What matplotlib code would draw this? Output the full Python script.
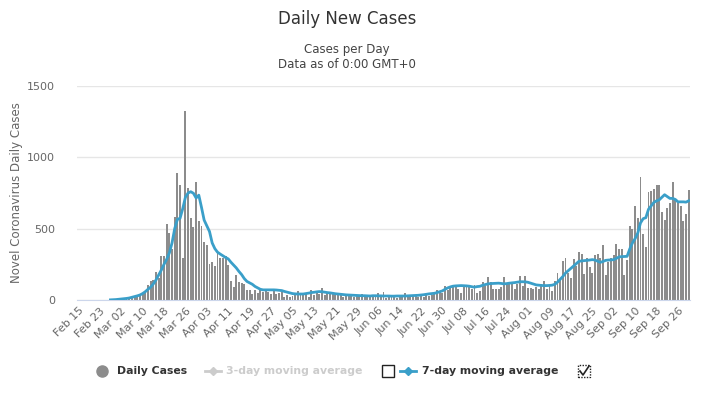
import numpy as np
import matplotlib.pyplot as plt
from matplotlib.patches import Rectangle
from matplotlib.lines import Line2D

# daily new cases, Feb 15 .. Sep 30
daily = [
    0, 0, 0, 0, 0, 0, 0, 0, 0, 0, 0, 0,
    1, 2, 3, 4, 5, 8, 10, 12,
    15, 18, 25, 30, 40, 47, 106, 134, 141, 196,
    153, 311, 311, 530, 467, 354, 584, 891, 806, 297,
    1325, 787, 575, 509, 827, 556, 518, 410, 386, 250,
    264, 240, 339, 297, 297, 311, 243, 134, 94, 177,
    123, 118, 111, 71, 71, 42, 71, 47, 71, 59,
    66, 59, 42, 71, 40, 47, 59, 24, 35, 19,
    28, 35, 64, 35, 47, 40, 19, 71, 35, 47,
    40, 82, 35, 52, 42, 52, 35, 47, 40, 19,
    28, 35, 28, 24, 33, 28, 42, 24, 19, 28,
    35, 24, 47, 28, 57, 12, 24, 19, 28, 12,
    24, 28, 47, 24, 19, 35, 28, 24, 35, 24,
    33, 28, 35, 42, 71, 64, 47, 99, 71, 101,
    106, 106, 78, 52, 94, 101, 94, 75, 106, 47,
    66, 127, 100, 164, 127, 78, 78, 78, 93, 162,
    115, 115, 122, 79, 113, 170, 99, 170, 82, 82,
    78, 92, 78, 113, 134, 75, 106, 64, 134, 191,
    148, 276, 297, 191, 156, 290, 240, 339, 325, 184,
    292, 233, 191, 318, 325, 292, 389, 177, 269, 297,
    318, 396, 354, 354, 177, 283, 516, 495, 658, 573,
    863, 460, 375, 757, 764, 778, 806, 806, 620, 559,
    643, 679, 827, 707, 679, 658, 552, 601, 771,
]

# 7-day moving average as drawn (starts Feb 27)
avg7 = [
    np.nan, np.nan, np.nan, np.nan, np.nan, np.nan,
    np.nan, np.nan, np.nan, np.nan, np.nan, np.nan,
    1, 2, 3, 5, 7, 9, 11, 14,
    19, 24, 29, 35, 45, 58, 75, 90, 112, 140,
    175, 210, 250, 285, 330, 400, 500, 565, 573, 640,
    720, 750, 759, 748, 715, 735, 650, 560, 520, 480,
    400, 360, 335, 322, 310, 298, 288, 265, 245, 225,
    200, 178, 150, 130, 120, 110, 95, 85, 75, 71,
    71, 71, 71, 71, 70, 68, 66, 60, 55, 50,
    45, 43, 42, 42, 42, 45, 48, 52, 54, 57,
    59, 58, 55, 52, 50, 47, 44, 42, 40, 38,
    36, 35, 34, 33, 32, 31, 30, 30, 29, 28,
    30, 30, 29, 29, 28, 28, 28, 27, 27, 28,
    28, 28, 28, 29, 30, 31, 32, 33, 35, 37,
    40, 43, 45, 47, 52, 58, 64, 75, 85, 92,
    97, 99, 100, 101, 100, 99, 97, 93, 90, 94,
    96, 103, 108, 113, 115, 116, 117, 118, 116, 113,
    115, 118, 120, 122, 125, 128, 128, 127, 124, 118,
    112, 106, 104, 102, 101, 101, 102, 104, 110, 125,
    145, 165, 189, 205, 220, 238, 255, 271, 274, 276,
    278, 280, 283, 280, 272, 264, 270, 278, 280, 281,
    283, 292, 302, 304, 305, 306, 358, 400, 430, 470,
    540, 570, 577, 636, 660, 684, 695, 702, 720, 738,
    725, 712, 712, 705, 688, 688, 688, 686, 695,
]

tick_labels = ['Feb 15', 'Feb 23', 'Mar 02', 'Mar 10', 'Mar 18', 'Mar 26',
               'Apr 03', 'Apr 11', 'Apr 19', 'Apr 27', 'May 05', 'May 13',
               'May 21', 'May 29', 'Jun 06', 'Jun 14', 'Jun 22', 'Jun 30',
               'Jul 08', 'Jul 16', 'Jul 24', 'Aug 01', 'Aug 09', 'Aug 17',
               'Aug 25', 'Sep 02', 'Sep 10', 'Sep 18', 'Sep 26']

W, H = 706, 397
plt.rcParams['font.family'] = ['DejaVu Sans']

fig = plt.figure(figsize=(W / 100, H / 100), dpi=100)


def fx(x):
    return x / W


def fy(y):
    return 1 - y / H


ax = fig.add_axes([fx(77), fy(300), fx(690) - fx(77), fy(86) - fy(300)])

x = np.arange(len(daily))
ax.bar(x, daily, width=0.72, color='#8c8c8c', zorder=2)
ax.plot(x, avg7, color='#3a9fc9', lw=2, zorder=3)

ax.set_xlim(-0.5, len(daily) - 0.5)
ax.set_ylim(0, 1500)
ax.set_yticks([0, 500, 1000, 1500])
ax.set_yticklabels(['0', '500', '1000', '1500'])
ax.set_xticks(np.arange(0, len(daily), 8))
ax.set_xticklabels(tick_labels, rotation=45, ha='right', rotation_mode='anchor')

ax.grid(axis='y', color='#e6e6e6', lw=1, zorder=0)
for s in ['top', 'right', 'left']:
    ax.spines[s].set_visible(False)
ax.spines['bottom'].set_color('#ccd6eb')
ax.tick_params(axis='y', length=0, pad=16, labelsize=8, labelcolor='#666666')
ax.tick_params(axis='x', length=0, pad=4, labelsize=8, labelcolor='#666666')

fig.text(fx(17), fy(193), 'Novel Coronavirus Daily Cases', rotation=90,
         ha='center', va='center', fontsize=8.5, color='#666666')

fig.text(fx(347), fy(19), 'Daily New Cases', ha='center', va='center',
         fontsize=12, color='#333333')
fig.text(fx(347), fy(49), 'Cases per Day', ha='center', va='center',
         fontsize=8.5, color='#444444')
fig.text(fx(347), fy(64), 'Data as of 0:00 GMT+0', ha='center', va='center',
         fontsize=8.5, color='#444444')

# legend
ly = 371
lfs = 7.8
fig.add_artist(Line2D([fx(102)], [fy(ly)], marker='o', ms=8, color='#8c8c8c',
                      lw=0, transform=fig.transFigure))
fig.text(fx(117), fy(ly), 'Daily Cases', ha='left', va='center', fontsize=lfs,
         fontweight='bold', color='#333333')

fig.add_artist(Line2D([fx(205), fx(221)], [fy(ly), fy(ly)], color='#cccccc',
                      lw=2, transform=fig.transFigure))
fig.add_artist(Line2D([fx(213)], [fy(ly)], marker='D', ms=4, color='#cccccc',
                      lw=0, transform=fig.transFigure))
fig.text(fx(226), fy(ly), '3-day moving average', ha='left', va='center',
         fontsize=lfs, fontweight='bold', color='#cccccc')

fig.add_artist(Rectangle((fx(382), fy(377)), fx(12), 12 / H, fill=False,
                         ec='#222222', lw=1, transform=fig.transFigure))

fig.add_artist(Line2D([fx(400), fx(416)], [fy(ly), fy(ly)], color='#3a9fc9',
                      lw=2, transform=fig.transFigure))
fig.add_artist(Line2D([fx(408)], [fy(ly)], marker='D', ms=4, color='#3a9fc9',
                      lw=0, transform=fig.transFigure))
fig.text(fx(422), fy(ly), '7-day moving average', ha='left', va='center',
         fontsize=lfs, fontweight='bold', color='#333333')

fig.add_artist(Rectangle((fx(578), fy(377)), fx(12), 12 / H, fill=False,
                         ec='#222222', lw=1, ls=(0, (1, 1)), transform=fig.transFigure))
fig.add_artist(Line2D([fx(580), fx(583), fx(589)], [fy(371), fy(375), fy(366)],
                      color='#222222', lw=1.2, transform=fig.transFigure))

fig.savefig('out.png', dpi=100)
